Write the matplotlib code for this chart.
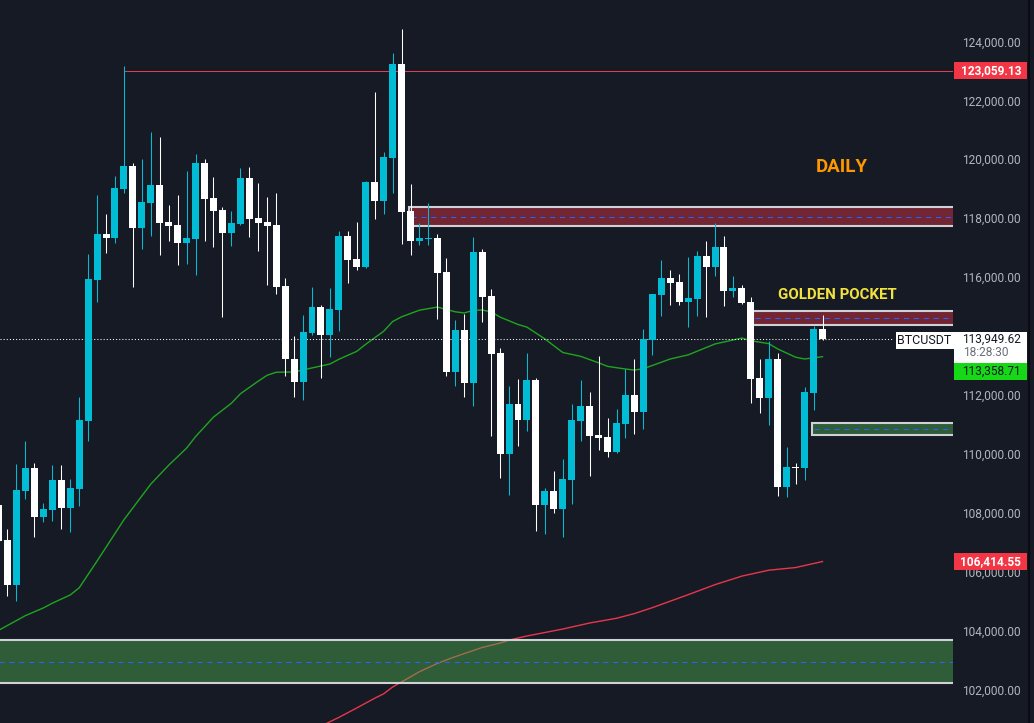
import matplotlib
matplotlib.use("Agg")
import matplotlib.pyplot as plt
from matplotlib.patches import Rectangle
from matplotlib.lines import Line2D
import numpy as np

# ---------------- data (BTCUSDT daily candles) ----------------
opens = [108330, 107140, 105620, 108800, 109580, 107920, 108160, 109180, 108230, 108870,
         111180, 115960, 117510, 117380, 119040, 119820, 117720, 118570, 119180, 117920,
         117820, 117210, 117350, 119920, 118740, 118330, 117550, 117850, 119410, 118060,
         117920, 117820, 115750, 113280, 112500, 114160, 115040, 114090, 114940, 117450,
         116670, 116400, 119280, 118630, 120090, 123280, 118290, 117280, 117350, 117380,
         116230, 112840, 114260, 112460, 116900, 115410, 113480, 110060, 111750, 111210,
         112570, 108330, 108800, 108190, 109180, 111180, 111680, 110700, 110630, 110120,
         111070, 112060, 111480, 113920, 115450, 116020, 115890, 115210, 115310, 116770,
         116400, 117070, 115580, 115680, 115210, 112630, 111960, 113280, 108940, 109620,
         109580, 112130, 114290]
highs = [108500, 107510, 109720, 110500, 109750, 108400, 109680, 109680, 109210, 111990,
         116840, 118840, 118190, 119480, 123220, 119920, 120060, 120970, 120800, 118500,
         118840, 119650, 120230, 120060, 119450, 118430, 118290, 119750, 119790, 119240,
         118770, 118900, 116020, 114060, 114770, 115720, 115110, 115680, 117620, 117620,
         117920, 119300, 122330, 120290, 123650, 124460, 119210, 117890, 118570, 117510,
         116700, 114600, 114800, 117410, 117010, 115650, 113650, 112360, 112600, 113480,
         112630, 108900, 109480, 109890, 111750, 112570, 112160, 113380, 111280, 111580,
         112940, 113280, 114290, 115500, 116630, 116290, 116160, 116740, 116940, 117280,
         117890, 117450, 116090, 115790, 115380, 113280, 113890, 113480, 110290, 109750,
         112330, 114400, 114770]
lows = [106970, 105240, 105070, 108530, 107240, 107750, 107790, 107510, 107410, 108290,
        110500, 115210, 116870, 117210, 118900, 115720, 117010, 117450, 116800, 117280,
        116460, 116500, 116120, 117280, 117070, 114700, 117110, 117820, 117410, 116940,
        115790, 115480, 112700, 111990, 111890, 114090, 112630, 113340, 114230, 115850,
        116290, 116380, 118020, 118190, 118900, 117180, 116800, 117140, 117140, 114630,
        112700, 112360, 111990, 111680, 114530, 110670, 109240, 108670, 110330, 110840,
        107450, 107340, 108060, 107240, 108360, 110500, 109310, 110190, 109960, 110100,
        110600, 110730, 110900, 113410, 114740, 115110, 115110, 114360, 114740, 114700,
        116090, 115070, 115380, 115150, 111790, 111450, 111040, 108630, 108600, 109040,
        109180, 111550, 113940]
closes = [107110, 105620, 108840, 109580, 107920, 108190, 109180, 108230, 108900, 111210,
          115990, 117510, 117380, 119070, 119820, 117720, 118600, 119180, 117890, 117790,
          117210, 117380, 119920, 118700, 118290, 117550, 117890, 119410, 118020, 117890,
          117790, 115720, 113280, 112500, 114190, 115040, 114090, 114970, 117450, 116630,
          116400, 119280, 118630, 120120, 123280, 118260, 117280, 117380, 117390, 116190,
          112840, 114260, 112460, 116900, 115380, 113450, 110060, 111750, 111210, 112570,
          108330, 108800, 108190, 109210, 111210, 111680, 110670, 110600, 110120, 111110,
          112060, 111480, 113960, 115480, 116020, 115850, 115210, 115350, 116770, 116400,
          117070, 115580, 115680, 115170, 112600, 111960, 113280, 108940, 109620, 109580,
          112160, 114290, 113949.62]

# moving averages (candle index, value)
ma50_idx = [0, 3, 5, 6, 8, 9, 11, 14, 17, 19, 21, 22, 24, 26, 27, 29, 30, 31, 33, 34,
            37, 38, 40, 41, 43, 44, 45, 47, 49, 51, 52, 53, 54, 55, 56, 58, 59, 61, 63,
            65, 67, 68, 70, 71, 72, 75, 77, 80, 83, 84, 86, 87, 89, 90, 92]
ma50_val = [104080, 104580, 104840, 105000, 105280, 105520, 106430, 107830, 109040, 109680,
            110260, 110650, 111310, 111780, 112100, 112530, 112730, 112830, 112840, 112910,
            113110, 113270, 113540, 113780, 114220, 114550, 114710, 114935, 115040, 114880,
            114840, 114930, 114940, 114880, 114700, 114450, 114360, 113960, 113500, 113370,
            113150, 113030, 112940, 112905, 112950, 113280, 113420, 113790, 113990, 113900,
            113800, 113620, 113340, 113280, 113358.71]
ma200_idx = [36, 38, 40, 42, 43, 44, 47, 49, 51, 54, 56, 57, 59, 63, 66, 69, 71, 73, 77,
             80, 83, 86, 89, 92]
ma200_val = [100835, 101130, 101450, 101780, 101930, 102160, 102680, 102960, 103190, 103500,
             103650, 103750, 103890, 104125, 104330, 104490, 104650, 104850, 105290, 105630,
             105920, 106120, 106210, 106414.55]

price_ticks = list(range(102000, 124001, 2000))
last_price = 113949.62
high_line = 123059.13
ma50_last = 113358.71
ma200_last = 106414.55
symbol = "BTCUSDT"
countdown = "18:28:30"

# zones: start candle index, top, bottom, type
zone_start = [45.8, 84.2, 90.8, -2.0]
zone_top = [118430, 114905, 111108, 103752]
zone_bottom = [117786, 114430, 110701, 102295]
zone_type = ["supply", "supply", "demand", "demand"]

# ---------------- style / layout ----------------
BG = "#161a25"
TEAL = "#00bcd4"
WHITE = "#ffffff"
W_PX, H_PX, DPI = 1034, 723, 100
PLOT_R = 953
XLIM = (0.163, 106.57)
YLIM = (100940, 125450)
upp = (YLIM[1] - YLIM[0]) / H_PX  # price units per pixel

fig = plt.figure(figsize=(W_PX / DPI, H_PX / DPI), dpi=DPI, facecolor=BG)
ax = fig.add_axes([0, 0, PLOT_R / W_PX, 1])
ax.set_facecolor(BG)
ax.set_xlim(*XLIM)
ax.set_ylim(*YLIM)
ax.set_axis_off()

# zones
for x0, top, bot, kind in zip(zone_start, zone_top, zone_bottom, zone_type):
    fc = (0.949, 0.212, 0.271, 0.42) if kind == "supply" else (0.298, 0.686, 0.314, 0.45)
    ax.add_patch(Rectangle((x0, bot), XLIM[1] + 3 - x0, top - bot, facecolor=fc,
                           edgecolor="#cfd1d6", lw=1.5, zorder=3))
    mid = (top + bot) / 2
    ax.plot([x0 + 0.3, XLIM[1]], [mid, mid], color="#2962ff", lw=0.75,
            ls=(0, (5, 4.5)), zorder=3.5)

# moving averages
ax.plot(ma200_idx, ma200_val, color="#e8364a", lw=1.0, zorder=2)
ax.plot(ma50_idx, ma50_val, color="#1fa51f", lw=1.0, zorder=2.5)

# high line
ax.plot([14, XLIM[1]], [high_line, high_line], color="#d9434f", lw=0.75, zorder=2)

# current price dotted line
ax.axhline(last_price, xmin=0, xmax=893 / PLOT_R, color="white", lw=0.75,
           ls=(0, (1, 2)), zorder=3.8)

# candles
o = np.array(opens, float); h = np.array(highs, float)
l = np.array(lows, float); c = np.array(closes, float)
idx = np.arange(len(o))
cols = np.where(c >= o, TEAL, WHITE)
ax.vlines(idx, l, h, colors=cols, lw=0.75, zorder=4)
ax.bar(idx, np.maximum(np.abs(c - o), upp), bottom=np.minimum(o, c), width=0.78,
       color=cols, lw=0, zorder=5)

# annotations
ax.text(94.2, 119786, "DAILY", color="#ff9800", fontsize=13.5, fontweight="bold",
        family="Roboto", ha="center", va="center", zorder=7)
ax.text(93.6, 115447, "GOLDEN POCKET", color="#f2e23e", fontsize=10.8, fontweight="bold",
        family="Roboto", ha="center", va="center", zorder=7)

# symbol tag
ty = ax.get_yaxis_transform()
ax.add_patch(Rectangle((896 / PLOT_R, last_price - 9.5 * upp), (PLOT_R - 896) / PLOT_R + 0.01,
                       17 * upp, transform=ty, facecolor="white", lw=0, zorder=8, clip_on=False))
ax.text(924.5 / PLOT_R, last_price - 1 * upp, symbol, transform=ty, color="#131722",
        fontsize=9, family="Roboto", ha="center", va="center", zorder=9)

# ---------------- price scale ----------------
ax2 = fig.add_axes([PLOT_R / W_PX, 0, (W_PX - PLOT_R) / W_PX, 1])
ax2.set_xlim(0, 1)
ax2.set_ylim(*YLIM)
ax2.set_axis_off()
t2 = ax2.get_yaxis_transform()
sw = W_PX - PLOT_R
tx = (1021 - PLOT_R) / sw
bx0 = (954 - PLOT_R) / sw
bw = (1027 - 954) / sw

for p in price_ticks:
    ax2.text(tx, p, f"{p:,.2f}", transform=t2, ha="right", va="center",
             color="#b2b5be", fontsize=8.6, family="Roboto", zorder=1)


def tag(center, label, fc, tc, weight="normal"):
    ax2.add_patch(Rectangle((bx0, center - 8.5 * upp), bw, 17 * upp, transform=t2,
                            facecolor=fc, lw=0, zorder=3, clip_on=False))
    ax2.text(tx, center, label, transform=t2, ha="right", va="center", color=tc,
             fontsize=8.6, family="Roboto", fontweight=weight, zorder=4)


tag(high_line, f"{high_line:,.2f}", "#f23645", "white", "bold")
tag(ma200_last, f"{ma200_last:,.2f}", "#f23645", "white", "bold")
tag(ma50_last - 15 * upp, f"{ma50_last:,.2f}", "#17d817", "#131722")

# current price box with countdown
ax2.add_patch(Rectangle((bx0, last_price - 23.6 * upp), bw, 31 * upp, transform=t2,
                        facecolor="white", lw=0, zorder=3, clip_on=False))
ax2.text(tx, last_price, f"{last_price:,.2f}", transform=t2, ha="right", va="center",
         color="#131722", fontsize=8.6, family="Roboto", zorder=4)
ax2.text((963 - PLOT_R) / sw, last_price - 13 * upp, countdown, transform=t2, ha="left",
         va="center", color="#6a6d78", fontsize=8.6, family="Roboto", zorder=4)

fig.add_artist(Line2D([1029 / W_PX] * 2, [0, 1], transform=fig.transFigure,
                      color="#0b0d13", lw=1.5))

fig.savefig("out.png", dpi=DPI, facecolor=BG)
